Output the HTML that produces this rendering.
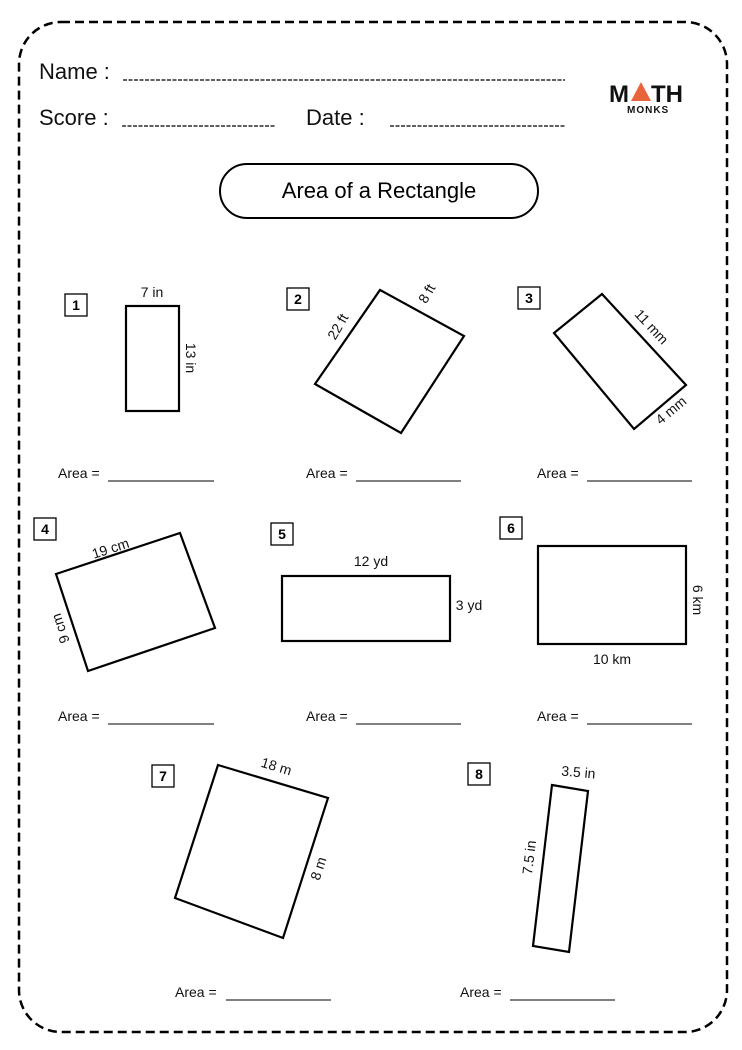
<!DOCTYPE html>
<html><head><meta charset="utf-8"><style>
html,body{margin:0;padding:0;background:#fff;}
svg{display:block;font-family:"Liberation Sans",sans-serif;}
</style></head><body>
<svg width="742" height="1050" viewBox="0 0 742 1050" xmlns="http://www.w3.org/2000/svg">
<rect x="19" y="22" width="708" height="1010" rx="42" fill="none" stroke="#000" stroke-width="2.5" stroke-dasharray="9,5"/>
<g font-size="22" fill="#111">
<text x="39" y="79">Name :</text>
<text x="39" y="125">Score :</text>
<text x="306" y="125">Date :</text>
</g>
<g stroke="#000" stroke-width="1.2" stroke-dasharray="4,1.5">
<line x1="123" y1="80" x2="565" y2="80"/>
<line x1="122" y1="126" x2="275" y2="126"/>
<line x1="390" y1="126" x2="566" y2="126"/>
</g>
<!-- logo -->
<g font-weight="bold" fill="#111">
<text x="609" y="102" font-size="24">M</text>
<polygon points="641,82 631,101 651,101" fill="#e8643a"/>
<text x="651" y="102" font-size="24">TH</text>
<text x="627" y="113" font-size="10" letter-spacing="1">MONKS</text>
</g>
<rect x="220" y="164" width="318" height="54" rx="27" fill="none" stroke="#000" stroke-width="2"/>
<text x="379" y="198" font-size="22" text-anchor="middle">Area of a Rectangle</text>

<g fill="none" stroke="#000" stroke-width="2.2">
<rect x="126" y="306" width="53" height="105"/>
<polygon points="380,290 464,336 401,433 315,384"/>
<polygon points="602,294 686,385 634,429 554,333"/>
<polygon points="56,574 180,533 215,628 88,671"/>
<rect x="282" y="576" width="168" height="65"/>
<rect x="538" y="546" width="148" height="98"/>
<polygon points="218,765 328,798 283,938 175,898"/>
<polygon points="552,785 588,791 569,952 533,946"/>
</g>
<g fill="none" stroke="#000" stroke-width="1.3">
<rect x="65" y="294" width="22" height="22"/>
<rect x="287" y="288" width="22" height="22"/>
<rect x="518" y="287" width="22" height="22"/>
<rect x="34" y="518" width="22" height="22"/>
<rect x="271" y="523" width="22" height="22"/>
<rect x="500" y="517" width="22" height="22"/>
<rect x="152" y="765" width="22" height="22"/>
<rect x="468" y="763" width="22" height="22"/>
</g>
<g font-size="14" font-weight="bold" text-anchor="middle">
<text x="76" y="310">1</text><text x="298" y="304">2</text><text x="529" y="303">3</text>
<text x="45" y="534">4</text><text x="282" y="539">5</text><text x="511" y="533">6</text>
<text x="163" y="781">7</text><text x="479" y="779">8</text>
</g>
<g font-size="14" text-anchor="middle" fill="#111">
<text x="152" y="297">7 in</text>
<text transform="translate(186,358) rotate(90)">13 in</text>
<text transform="translate(342,329) rotate(-60)">22 ft</text>
<text transform="translate(431,296) rotate(-60)">8 ft</text>
<text transform="translate(648,330) rotate(47)">11 mm</text>
<text transform="translate(674,414) rotate(-40)">4 mm</text>
<text transform="translate(112,553) rotate(-18)">19 cm</text>
<text transform="translate(65,627) rotate(-108)">9 cm</text>
<text x="371" y="566">12 yd</text>
<text x="469" y="610">3 yd</text>
<text transform="translate(693,600) rotate(90)">6 km</text>
<text x="612" y="664">10 km</text>
<text transform="translate(275,771) rotate(17)">18 m</text>
<text transform="translate(323,870) rotate(-72)">8 m</text>
<text transform="translate(578,777) rotate(5)">3.5 in</text>
<text transform="translate(534,858) rotate(-83)">7.5 in</text>
</g>
<g font-size="14" fill="#111">
<text x="58" y="478">Area =</text><text x="306" y="478">Area =</text><text x="537" y="478">Area =</text>
<text x="58" y="721">Area =</text><text x="306" y="721">Area =</text><text x="537" y="721">Area =</text>
<text x="175" y="997">Area =</text><text x="460" y="997">Area =</text>
</g>
<g stroke="#000" stroke-width="1">
<line x1="108" y1="481" x2="214" y2="481"/><line x1="356" y1="481" x2="461" y2="481"/><line x1="587" y1="481" x2="692" y2="481"/>
<line x1="108" y1="724" x2="214" y2="724"/><line x1="356" y1="724" x2="461" y2="724"/><line x1="587" y1="724" x2="692" y2="724"/>
<line x1="226" y1="1000" x2="331" y2="1000"/><line x1="510" y1="1000" x2="615" y2="1000"/>
</g>
</svg>
</body></html>
